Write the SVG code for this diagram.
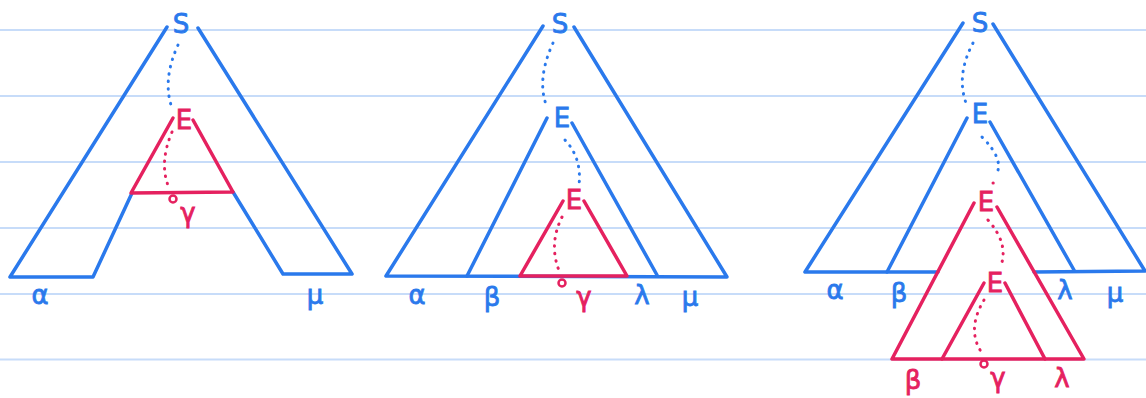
<svg xmlns="http://www.w3.org/2000/svg" width="1146" height="398" viewBox="0 0 1146 398">
<style>
.rule{stroke:#c7dcf9;stroke-width:2.2;fill:none}
.b{stroke:#2a79ec;stroke-width:3.5;fill:none;stroke-linecap:round;stroke-linejoin:round}
.r{stroke:#e5215f;stroke-width:3.5;fill:none;stroke-linecap:round;stroke-linejoin:round}
.bd{stroke:#2a79ec;stroke-width:3;fill:none;stroke-linecap:round;stroke-dasharray:0.5 7}
.rd{stroke:#e5215f;stroke-width:3;fill:none;stroke-linecap:round;stroke-dasharray:0.5 7}
.circ{stroke:#e5215f;stroke-width:2.5;fill:none}
text{font-family:"DejaVu Sans","Liberation Sans",sans-serif;font-size:26px;text-anchor:middle;dominant-baseline:central;stroke-width:0.8}
.tb{fill:#2a79ec;stroke:#2a79ec}
.tr{fill:#e5215f;stroke:#e5215f}
</style>
<rect width="1146" height="398" fill="#ffffff"/>
<g id="rules">
<line class="rule" x1="0" y1="30" x2="1146" y2="30"/>
<line class="rule" x1="0" y1="96" x2="1146" y2="96"/>
<line class="rule" x1="0" y1="162" x2="1146" y2="162"/>
<line class="rule" x1="0" y1="228" x2="1146" y2="228"/>
<line class="rule" x1="0" y1="294" x2="1146" y2="294"/>
<line class="rule" x1="0" y1="359.5" x2="1146" y2="359.5"/>
</g>
<g id="figure1">
<polyline class="b" points="167,27 10,277 93,277 132,193"/>
<polyline class="b" points="198,28 352,274 283,274 233,192"/>
<polyline class="r" points="173,118 131,193 233,192 193,120"/>
<path class="bd" d="M178,45 Q162,80 172,108"/>
<path class="rd" d="M172,132 Q158,165 170,190"/>
<circle class="circ" cx="173" cy="199" r="3.5"/>
<text class="tb" x="181" y="24">S</text>
<text class="tr" x="184" y="120">E</text>
<text class="tr" x="188" y="213">γ</text>
<text class="tb" x="40" y="295">α</text>
<text class="tb" x="315" y="295">μ</text>
</g>
<g id="figure2">
<polyline class="b" points="543,26 386,276 727,277 574,27"/>
<line class="b" x1="547" y1="118" x2="467" y2="276"/>
<line class="b" x1="572" y1="123" x2="657" y2="275"/>
<polyline class="r" points="563,201 520,276 627,276 584,201"/>
<path class="bd" d="M553,43 Q536,80 547,107"/>
<path class="bd" d="M565,140 Q582,158 579,185"/>
<path class="rd" d="M562,217 Q548,245 560,273"/>
<circle class="circ" cx="562" cy="283" r="3.5"/>
<text class="tb" x="560" y="24">S</text>
<text class="tb" x="562" y="118">E</text>
<text class="tr" x="574" y="200">E</text>
<text class="tr" x="584" y="297">γ</text>
<text class="tb" x="417" y="295">α</text>
<text class="tb" x="492" y="297">β</text>
<text class="tb" x="642" y="295">λ</text>
<text class="tb" x="690" y="297">μ</text>
</g>
<g id="figure3">
<polyline class="b" points="963,23 805,272 938,272"/>
<polyline class="b" points="993,24 1145,271 1034,272"/>
<line class="b" x1="967" y1="118" x2="887" y2="272"/>
<line class="b" x1="990" y1="122" x2="1074" y2="270"/>
<polyline class="r" points="974,203 892,359 1084,359 997,207"/>
<line class="r" x1="984" y1="283" x2="942" y2="359"/>
<line class="r" x1="1005" y1="283" x2="1045" y2="359"/>
<path class="bd" d="M982,137 Q1005,160 996,175"/>
<path class="bd" d="M973,43 Q956,75 966,103"/>
<path class="rd" d="M993,183 L993,183"/>
<path class="rd" d="M988,220 Q1010,245 1000,268"/>
<path class="rd" d="M984,300 Q966,330 982,353"/>
<circle class="circ" cx="984" cy="364" r="3.5"/>
<text class="tb" x="980" y="23">S</text>
<text class="tb" x="980" y="114">E</text>
<text class="tr" x="986" y="202">E</text>
<text class="tr" x="995" y="283">E</text>
<text class="tr" x="998" y="378">γ</text>
<text class="tb" x="835" y="290">α</text>
<text class="tb" x="899" y="293">β</text>
<text class="tb" x="1065" y="290">λ</text>
<text class="tb" x="1115" y="293">μ</text>
<text class="tr" x="913" y="380">β</text>
<text class="tr" x="1062" y="378">λ</text>
</g>
</svg>
